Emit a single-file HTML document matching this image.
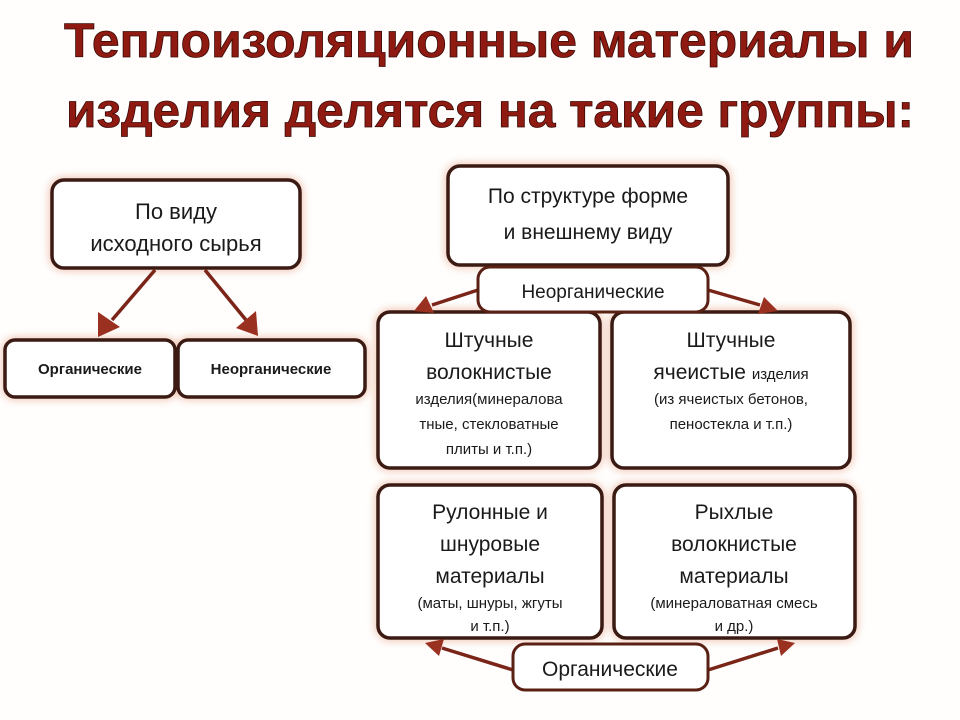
<!DOCTYPE html>
<html><head><meta charset="utf-8"><style>
html,body{margin:0;padding:0;background:#fff;}
svg{display:block;}
text{font-family:"Liberation Sans","DejaVu Sans",sans-serif;}
</style></head><body>
<svg width="960" height="720" viewBox="0 0 960 720" xmlns="http://www.w3.org/2000/svg">
<defs>
<filter id="glow" x="-20%" y="-20%" width="140%" height="140%">
<feGaussianBlur stdDeviation="4"/>
</filter>
</defs>
<rect width="960" height="720" fill="#fffefd"/>
<g font-weight="bold" font-size="48" fill="#8e1a12" stroke="#3a0a06" stroke-width="0.8">
<text x="64" y="57" textLength="850" lengthAdjust="spacingAndGlyphs">Теплоизоляционные материалы и</text>
<text x="66" y="127" textLength="848" lengthAdjust="spacingAndGlyphs">изделия делятся на такие группы:</text>
</g>
<g fill="none" stroke="#e8a488" stroke-width="6" filter="url(#glow)" opacity="0.7">
<rect x="52" y="180" width="248" height="88" rx="12"/>
<rect x="5" y="340" width="170" height="57" rx="10"/>
<rect x="178" y="340" width="187" height="57" rx="10"/>
<rect x="448" y="166" width="280" height="99" rx="12"/>
<rect x="378" y="312" width="222" height="156" rx="12"/>
<rect x="612" y="312" width="238" height="156" rx="12"/>
<rect x="378" y="485" width="224" height="153" rx="12"/>
<rect x="614" y="485" width="241" height="153" rx="12"/>
</g>
<g fill="#fff" stroke="#3a1a12" stroke-width="3.5">
<rect x="52" y="180" width="248" height="88" rx="12"/>
<rect x="5" y="340" width="170" height="57" rx="10"/>
<rect x="178" y="340" width="187" height="57" rx="10"/>
<rect x="448" y="166" width="280" height="99" rx="12"/>
<rect x="378" y="312" width="222" height="156" rx="12"/>
<rect x="612" y="312" width="238" height="156" rx="12"/>
<rect x="378" y="485" width="224" height="153" rx="12"/>
<rect x="614" y="485" width="241" height="153" rx="12"/>
</g>
<g stroke="#7a2518" stroke-width="3.5" fill="#9a3020">
<line x1="155" y1="270" x2="112" y2="320"/>
<polygon points="98,337 98,312 120,327" stroke="none"/>
<line x1="205" y1="270" x2="246" y2="320"/>
<polygon points="258,336 236,328 256,311" stroke="none"/>
<line x1="478" y1="290" x2="432" y2="305"/>
<polygon points="414,311 426,296 434,313" stroke="none"/>
<line x1="708" y1="290" x2="760" y2="305"/>
<polygon points="778,311 758,314 764,297" stroke="none"/>
<line x1="513" y1="670" x2="442" y2="648"/>
<polygon points="425,643 444,639 439,656" stroke="none"/>
<line x1="708" y1="670" x2="778" y2="648"/>
<polygon points="795,643 781,656 777,639" stroke="none"/>
</g>
<g fill="#fff" stroke="#5a2014" stroke-width="3">
<rect x="478" y="267" width="230" height="45" rx="12"/>
<rect x="513" y="644" width="195" height="46" rx="12"/>
</g>
<g fill="#1a1a1a" text-anchor="middle">
<text x="176" y="219" font-size="22">По виду</text>
<text x="176" y="251" font-size="22">исходного сырья</text>
<text x="90" y="374" font-size="15" font-weight="bold">Органические</text>
<text x="271" y="374" font-size="15" font-weight="bold">Неорганические</text>
<text x="588" y="203" font-size="21">По структуре форме</text>
<text x="588" y="239" font-size="21">и внешнему виду</text>
<text x="593" y="298" font-size="19">Неорганические</text>
<text x="489" y="347" font-size="21">Штучные</text>
<text x="489" y="379" font-size="21">волокнистые</text>
<text x="489" y="404" font-size="15">изделия(минералова</text>
<text x="489" y="429" font-size="15">тные, стекловатные</text>
<text x="489" y="454" font-size="15">плиты и т.п.)</text>
<text x="731" y="347" font-size="21">Штучные</text>
<text x="731" y="379" font-size="21">ячеистые <tspan font-size="15">изделия</tspan></text>
<text x="731" y="404" font-size="15">(из ячеистых бетонов,</text>
<text x="731" y="429" font-size="15">пеностекла и т.п.)</text>
<text x="490" y="519" font-size="21">Рулонные и</text>
<text x="490" y="551" font-size="21">шнуровые</text>
<text x="490" y="583" font-size="21">материалы</text>
<text x="490" y="608" font-size="15">(маты, шнуры, жгуты</text>
<text x="490" y="631" font-size="15">и т.п.)</text>
<text x="734" y="519" font-size="21">Рыхлые</text>
<text x="734" y="551" font-size="21">волокнистые</text>
<text x="734" y="583" font-size="21">материалы</text>
<text x="734" y="608" font-size="15">(минераловатная смесь</text>
<text x="734" y="631" font-size="15">и др.)</text>
<text x="610" y="676" font-size="21">Органические</text>
</g>
</svg>
</body></html>
